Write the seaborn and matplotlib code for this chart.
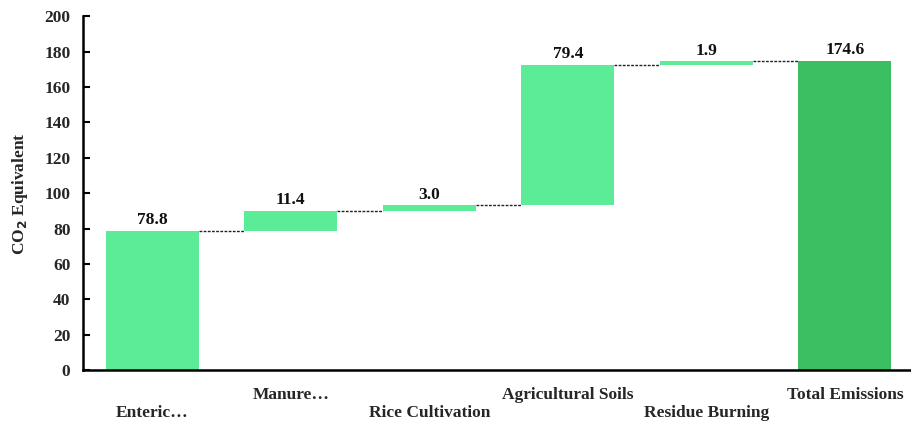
import numpy as np
import pandas as pd
import matplotlib
matplotlib.use("Agg")
import matplotlib.pyplot as plt
import matplotlib.transforms as mtransforms
import seaborn as sns

# Emission sources and their contributions (CO2 equivalent)
categories = ["Enteric…", "Manure…", "Rice Cultivation", "Agricultural Soils",
              "Residue Burning", "Total Emissions"]
increments = [78.8, 11.4, 3.0, 79.4, 1.9]
total = 174.6
value_labels = ["78.8", "11.4", "3.0", "79.4", "1.9", "174.6"]
y_ticks = [0, 20, 40, 60, 80, 100, 120, 140, 160, 180, 200]

sns.set_theme(style="white")
plt.rcParams["font.family"] = ["Liberation Serif", "DejaVu Serif"]
plt.rcParams["font.weight"] = "bold"

# Waterfall geometry: each step floats on the running total
cum = np.cumsum(increments)
bottoms = list(np.concatenate([[0.0], cum[:-1]])) + [0.0]
heights = list(increments) + [total]
df = pd.DataFrame({"source": categories, "height": heights})

light = "#5CEB96"
dark = "#3CBE62"
bar_w = 0.67
fs = 12.5

fig = plt.figure(figsize=(9.12, 4.26), dpi=100)
ax = fig.add_axes([0.091, 0.131, 0.909, 0.831])

sns.barplot(data=df, x="source", y="height", order=categories, color=light,
            bottom=bottoms, width=bar_w, saturation=1, ax=ax, errorbar=None)
for i, p in enumerate(ax.patches):
    p.set_facecolor(dark if i == len(categories) - 1 else light)
    p.set_edgecolor("none")

# Dashed connectors between consecutive bars
tops = list(cum) + [total]
for i in range(len(categories) - 1):
    ax.plot([i + bar_w / 2, i + 1 - bar_w / 2], [tops[i], tops[i]],
            ls=(0, (2, 1)), color="#222222", lw=1.0, zorder=1)

# Value labels above bars
for i, lab in enumerate(value_labels):
    ax.text(i, bottoms[i] + heights[i] + 1.5, lab, ha="center", va="bottom",
            fontsize=fs, fontweight="bold", color="#111111")

ax.set_ylim(0, 200)
ax.set_xlim(-0.5, 5.485)
ax.set_yticks(y_ticks)
ax.set_yticklabels([str(t) for t in y_ticks], fontsize=fs, fontweight="bold")
ax.set_ylabel("CO$_2$ Equivalent", fontsize=fs, fontweight="bold", labelpad=10)
ax.set_xlabel("")

# Category labels at centers, tick marks at category boundaries
ax.set_xticks(range(len(categories)))
ax.set_xticklabels(categories, fontsize=fs, fontweight="bold")
ax.set_xticks([i + 0.5 for i in range(len(categories) - 1)], minor=True)
ax.tick_params(axis="x", which="major", length=0, pad=12)
ax.tick_params(axis="x", which="minor", length=5, width=1.5, direction="in",
               color="black")
ax.tick_params(axis="y", length=5, width=1.5, direction="in", color="black",
               pad=9, left=True)
shift = mtransforms.ScaledTranslation(0, -18 / 100, fig.dpi_scale_trans)
for i, lbl in enumerate(ax.get_xticklabels()):
    if i % 2 == 0:
        lbl.set_transform(lbl.get_transform() + shift)

for s in ["top", "right"]:
    ax.spines[s].set_visible(False)
for s in ["left", "bottom"]:
    ax.spines[s].set_color("black")
    ax.spines[s].set_linewidth(1.8)

fig.savefig("out.png", dpi=100)
